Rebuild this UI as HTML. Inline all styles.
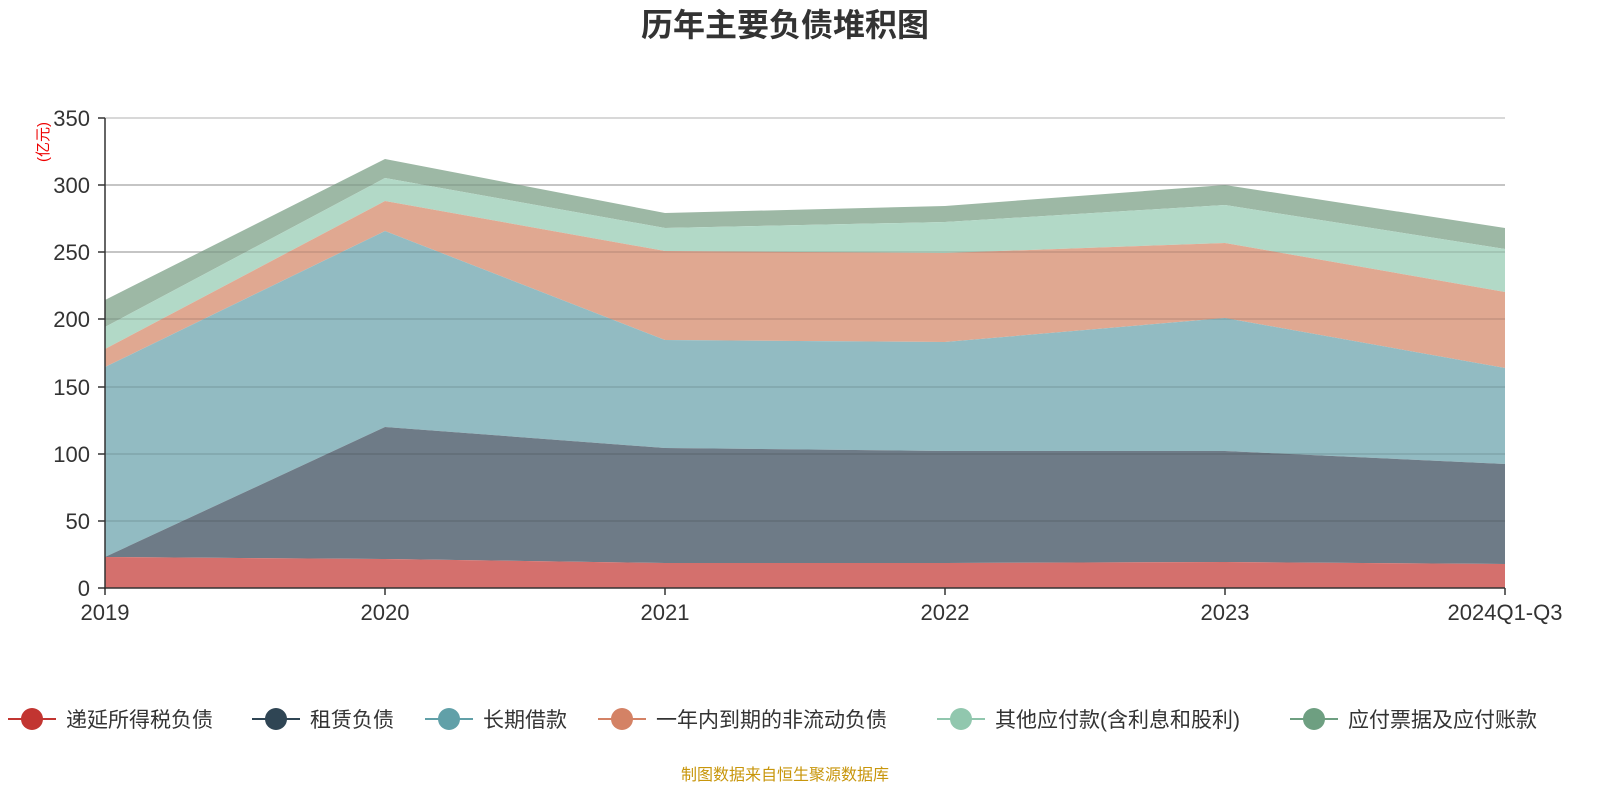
<!DOCTYPE html>
<html><head><meta charset="utf-8"><style>
body{margin:0;background:#fff;}
svg{display:block;font-family:"Liberation Sans","Noto Sans CJK SC",sans-serif;}
</style></head><body>
<svg width="1600" height="800" viewBox="0 0 1600 800">
<text x="785" y="36" text-anchor="middle" font-size="32" font-weight="bold" fill="#333">历年主要负债堆积图</text>
<g stroke="#ccc" stroke-width="1.5">
<line x1="105" x2="1505" y1="118" y2="118"/><line x1="105" x2="1505" y1="185" y2="185"/>
<line x1="105" x2="1505" y1="252" y2="252"/><line x1="105" x2="1505" y1="319" y2="319"/>
<line x1="105" x2="1505" y1="387" y2="387"/><line x1="105" x2="1505" y1="454" y2="454"/>
<line x1="105" x2="1505" y1="521" y2="521"/>
</g>
<!-- areas -->
<polygon fill="#9db8a5" points="105,300 385,159 665,213 945,206 1225,185 1505,228 1505,249 1225,205 945,222 665,228 385,178 105,327"/>
<polygon fill="#b2d9c7" points="105,327 385,178 665,228 945,222 1225,205 1505,249 1505,292 1225,243 945,253 665,251 385,201 105,349"/>
<polygon fill="#e0a891" points="105,349 385,201 665,251 945,253 1225,243 1505,292 1505,368 1225,318 945,342 665,340 385,231 105,367"/>
<polygon fill="#92bbc2" points="105,367 385,231 665,340 945,342 1225,318 1505,368 1505,464 1225,451 945,451 665,448 385,427 105,557"/>
<polygon fill="#6e7b87" points="105,557 385,427 665,448 945,451 1225,451 1505,464 1505,564 1225,562 945,563 665,563 385,559 105,557"/>
<polygon fill="#d4706d" points="105,557 385,559 665,563 945,563 1225,562 1505,564 1505,588 105,588"/>
<g stroke="#000" stroke-opacity="0.12" stroke-width="1.5">
<line x1="105" x2="1505" y1="319" y2="319"/><line x1="105" x2="1505" y1="387" y2="387"/>
<line x1="105" x2="1505" y1="454" y2="454"/><line x1="105" x2="1505" y1="521" y2="521"/>
<line x1="105" x2="1505" y1="252" y2="252"/><line x1="105" x2="1505" y1="185" y2="185"/>
</g>
<line x1="105" y1="118" x2="105" y2="589" stroke="#333" stroke-width="1.5"/>
<line x1="104" y1="588" x2="1505" y2="588" stroke="#333" stroke-width="1.5"/>
<g stroke="#333" stroke-width="1.5">
<line x1="98" x2="105" y1="118" y2="118"/><line x1="98" x2="105" y1="185" y2="185"/><line x1="98" x2="105" y1="252" y2="252"/><line x1="98" x2="105" y1="319" y2="319"/><line x1="98" x2="105" y1="387" y2="387"/><line x1="98" x2="105" y1="454" y2="454"/><line x1="98" x2="105" y1="521" y2="521"/><line x1="98" x2="105" y1="588" y2="588"/>
<line x1="105" x2="105" y1="588" y2="595"/><line x1="385" x2="385" y1="588" y2="595"/><line x1="665" x2="665" y1="588" y2="595"/><line x1="945" x2="945" y1="588" y2="595"/><line x1="1225" x2="1225" y1="588" y2="595"/><line x1="1505" x2="1505" y1="588" y2="595"/>
</g>
<g font-size="22" fill="#333" text-anchor="end">
<text x="90" y="126">350</text><text x="90" y="193">300</text><text x="90" y="260">250</text><text x="90" y="327">200</text><text x="90" y="395">150</text><text x="90" y="462">100</text><text x="90" y="529">50</text><text x="90" y="596">0</text>
</g>
<g font-size="22" fill="#333" text-anchor="middle">
<text x="105" y="620">2019</text><text x="385" y="620">2020</text><text x="665" y="620">2021</text><text x="945" y="620">2022</text><text x="1225" y="620">2023</text><text x="1505" y="620">2024Q1-Q3</text>
</g>
<text transform="translate(48,142) rotate(-90)" font-size="15" fill="#e00" text-anchor="middle">(亿元)</text>
<g font-size="21" fill="#333">
<line x1="8" x2="56" y1="719" y2="719" stroke="#c23531" stroke-width="2"/><circle cx="32" cy="719" r="11" fill="#c23531"/><text x="66" y="727">递延所得税负债</text>
<line x1="252" x2="300" y1="719" y2="719" stroke="#2f4554" stroke-width="2"/><circle cx="276" cy="719" r="11" fill="#2f4554"/><text x="310" y="727">租赁负债</text>
<line x1="425" x2="473" y1="719" y2="719" stroke="#61a0a8" stroke-width="2"/><circle cx="449" cy="719" r="11" fill="#61a0a8"/><text x="483" y="727">长期借款</text>
<line x1="598" x2="646" y1="719" y2="719" stroke="#d48265" stroke-width="2"/><circle cx="622" cy="719" r="11" fill="#d48265"/><text x="656" y="727">一年内到期的非流动负债</text>
<line x1="937" x2="985" y1="719" y2="719" stroke="#91c7ae" stroke-width="2"/><circle cx="961" cy="719" r="11" fill="#91c7ae"/><text x="995" y="727">其他应付款(含利息和股利)</text>
<line x1="1290" x2="1338" y1="719" y2="719" stroke="#6e9f81" stroke-width="2"/><circle cx="1314" cy="719" r="11" fill="#6e9f81"/><text x="1348" y="727">应付票据及应付账款</text>
</g>
<text x="785" y="780" text-anchor="middle" font-size="16" fill="#c8960c">制图数据来自恒生聚源数据库</text>
</svg>
</body></html>
